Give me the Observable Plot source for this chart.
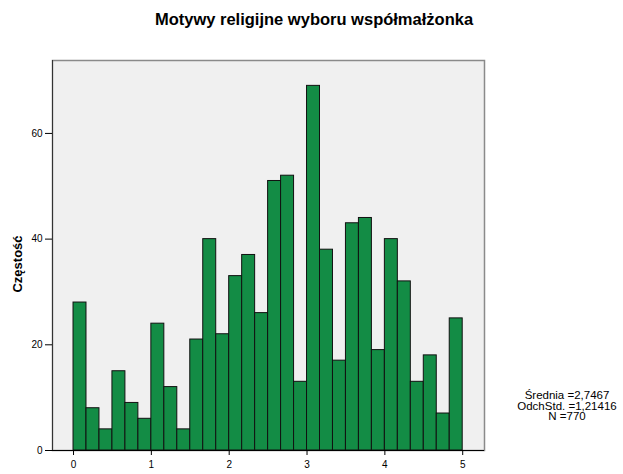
<!DOCTYPE html>
<html>
<head>
<meta charset="utf-8">
<script src="https://cdn.jsdelivr.net/npm/d3@7"></script>
<script src="https://cdn.jsdelivr.net/npm/@observablehq/plot@0.6"></script>
<style>
  html, body { margin: 0; padding: 0; background: #fff; }
  #wrap { position: relative; width: 623px; height: 474px; font-family: "Liberation Sans", Arial, sans-serif; }
  #title { position: absolute; left: 0; width: 628px; top: 10px; text-align: center; font-weight: bold; font-size: 16.5px; line-height: 19px; color: #000; }
  #ylab { position: absolute; left: 17px; top: 264px; transform: translate(-50%, -50%) rotate(-90deg); font-weight: bold; font-size: 13px; white-space: nowrap; color: #000; }
  #stats { position: absolute; left: 507px; width: 120px; top: 390px; text-align: center; font-size: 11.5px; line-height: 10.5px; color: #000; }
  svg { position: absolute; left: 0; top: 0; }
</style>
</head>
<body>
<div id="wrap"></div>
<script>
const titleText = "Motywy religijne wyboru współmałżonka";
const yLabel = "Częstość";
const statsLines = ["Średnia =2,7467", "OdchStd. =1,21416", "N =770"];
const binStart = 0;
const binWidth = 1 / 6;
const counts = [28, 8, 4, 15, 9, 6, 24, 12, 4, 21, 40, 22, 33, 37, 26, 51, 52, 13, 69, 38, 17, 43, 44, 19, 40, 32, 13, 18, 7, 25];
const xTicks = [0, 1, 2, 3, 4, 5];
const yTicks = [0, 20, 40, 60];

const bins = counts.map((c, i) => ({x1: binStart + i * binWidth, x2: binStart + (i + 1) * binWidth, count: c}));

const chart = Plot.plot({
  width: 623,
  height: 474,
  marginLeft: 52,
  marginRight: 139,
  marginTop: 60,
  marginBottom: 24,
  style: {fontFamily: "'Liberation Sans', Arial, sans-serif", fontSize: "10px", color: "#000", background: "transparent"},
  x: {domain: [-0.27, 5.28], ticks: xTicks, tickFormat: d => String(d)},
  y: {domain: [0, 73.8], ticks: yTicks, tickFormat: d => String(d)},
  marks: [
    Plot.frame({fill: "#f0f0f0", stroke: "#8a8a8a", strokeWidth: 1.5}),
    Plot.rectY(bins, {x1: "x1", x2: "x2", y: "count", fill: "#138c45", stroke: "#111", strokeWidth: 1, inset: 0}),
    Plot.frame({anchor: "left", stroke: "#333"}),
    Plot.ruleY([0], {stroke: "#000"}),
    Plot.axisX({ticks: xTicks, tickSize: 5, tickPadding: 5, label: null, tickFormat: d => String(d)}),
    Plot.axisY({ticks: yTicks, tickSize: 7, tickPadding: 3, label: null, tickFormat: d => String(d)})
  ]
});

const wrap = document.getElementById("wrap");
wrap.appendChild(chart);
const t = document.createElement("div"); t.id = "title"; t.textContent = titleText; wrap.appendChild(t);
const yl = document.createElement("div"); yl.id = "ylab"; yl.textContent = yLabel; wrap.appendChild(yl);
const st = document.createElement("div"); st.id = "stats"; st.innerHTML = statsLines.map(s => `<div>${s}</div>`).join(""); wrap.appendChild(st);
</script>
</body>
</html>
